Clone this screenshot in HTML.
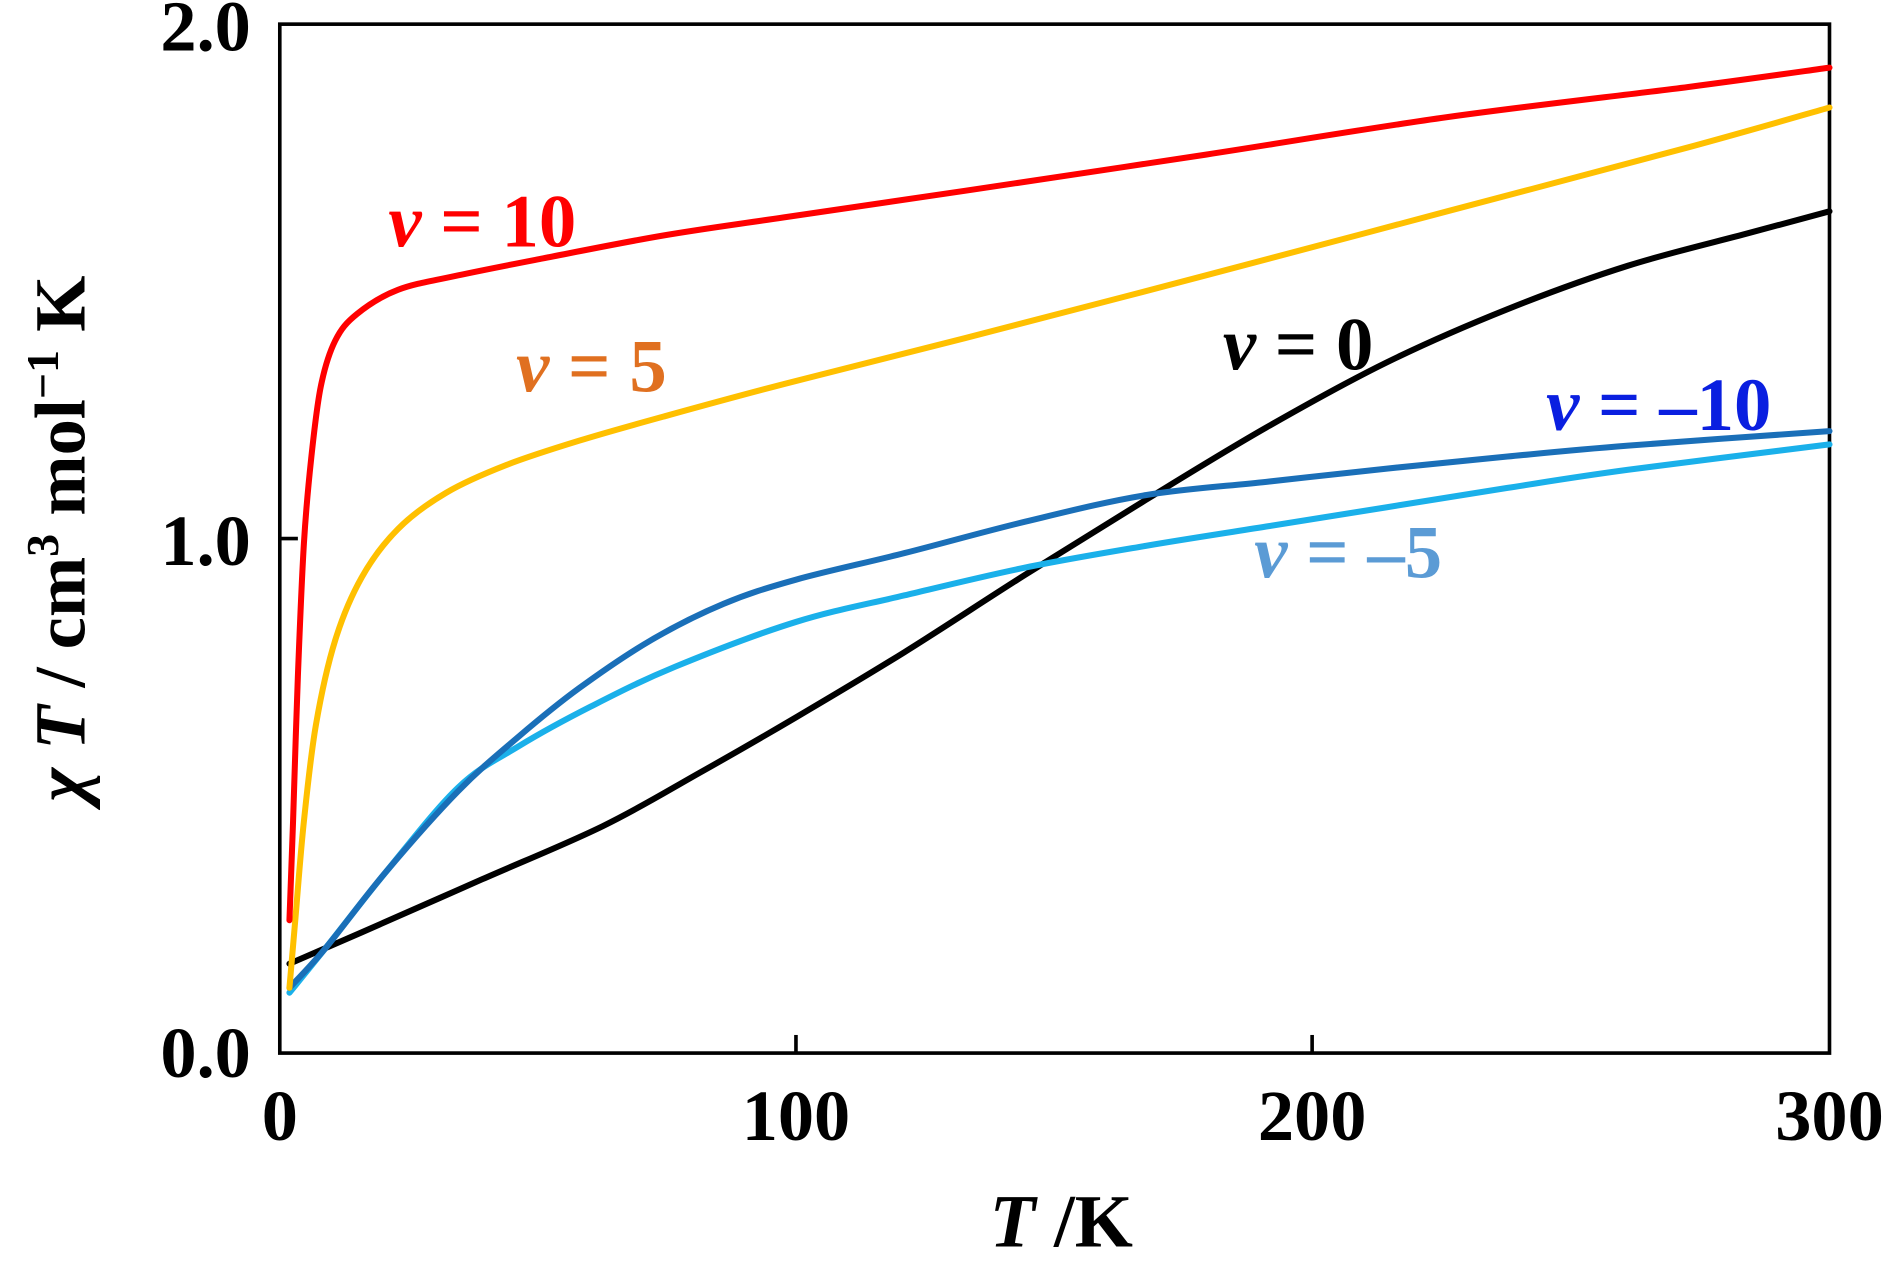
<!DOCTYPE html>
<html><head><style>html,body{margin:0;padding:0;background:#fff}svg{display:block}text{font-family:"Liberation Serif",serif;font-weight:bold}</style></head>
<body>
<svg id="s" width="1891" height="1262" viewBox="0 0 1568 1045" preserveAspectRatio="none" xmlns="http://www.w3.org/2000/svg">
<rect x="232" y="20" width="1285" height="852" fill="none" stroke="#000" stroke-width="3"/>
<g stroke="#000" stroke-width="3">
<line x1="660" y1="872" x2="660" y2="857"/><line x1="1088" y1="872" x2="1088" y2="857"/>
<line x1="232" y1="446" x2="247" y2="446"/>
</g>
<g font-size="60" text-anchor="end">
<text x="208" y="42">2.0</text><text x="208" y="468">1.0</text><text x="208" y="892">0.0</text>
</g>
<g font-size="60" text-anchor="middle">
<text x="232" y="944">0</text><text x="660" y="944">100</text><text x="1088" y="944">200</text><text x="1517" y="944">300</text>
</g>
<text x="880" y="1032" font-size="62" text-anchor="middle"><tspan font-style="italic">T</tspan> /K</text>
<text transform="translate(70,446) rotate(-90)" font-size="60" text-anchor="middle"><tspan font-style="italic">χ T</tspan> / cm<tspan font-size="38" dy="-22">3</tspan><tspan dy="22"> mol</tspan><tspan font-size="38" dy="-22">−1</tspan><tspan dy="22"> K</tspan></text>
<g id="curves" fill="none" stroke-width="5" stroke-linejoin="round" stroke-linecap="round">
<polyline stroke="#000" points="240,798 300,772 400,728 500,684 580,640 660,594 750,540 850,476 950,414 1050,354 1150,300 1250,256 1350,220 1450,193 1517,175"/>
<polyline stroke="#1ab0ea" points="240,822 270,785 320,722 380,652 430,618 490,585 560,552 660,515 750,493 850,470 950,452 1050,436 1150,420 1250,404 1350,389 1517,368"/>
<polyline stroke="#1a6fb8" points="240,818 270,785 320,722 380,655 430,610 480,570 540,530 600,500 660,480 750,458 850,432 950,410 1050,399 1150,388 1250,378 1350,369 1517,357"/>
<polyline stroke="#ffc000" points="240,818 245,760 252,680 262,600 278,530 300,478 330,438 370,408 420,385 480,365 550,345 650,318 800,280 1000,228 1200,175 1400,122 1517,89"/>
<polyline stroke="#ff0000" points="240,762 243,680 247,560 252,450 258,380 266,320 278,282 296,260 330,240 380,228 450,214 550,195 650,180 800,158 1000,128 1200,97 1400,72 1517,56"/>
</g>
<g font-size="62">
<text x="322" y="204" fill="#ff0000"><tspan font-style="italic">v</tspan> = 10</text>
<text x="428" y="324" fill="#e07020"><tspan font-style="italic">v</tspan> = 5</text>
<text x="1014" y="306" fill="#000"><tspan font-style="italic">v</tspan> = 0</text>
<text x="1282" y="356" fill="#0a1fe0"><tspan font-style="italic">v</tspan> = –10</text>
<text x="1040" y="478" fill="#5b9bd5"><tspan font-style="italic">v</tspan> = –5</text>
</g>
</svg>
<script>
document.querySelectorAll('#curves polyline').forEach(function(pl){
 var p=pl.getAttribute('points').trim().split(/\s+/).map(function(s){return s.split(',').map(Number)});
 var d='M'+p[0][0]+','+p[0][1];
 for(var i=0;i<p.length-1;i++){
  var p0=p[i>0?i-1:i],p1=p[i],p2=p[i+1],p3=p[i+2<p.length?i+2:i+1];
  var c1=[p1[0]+(p2[0]-p0[0])/6,p1[1]+(p2[1]-p0[1])/6],c2=[p2[0]-(p3[0]-p1[0])/6,p2[1]-(p3[1]-p1[1])/6];
  d+=' C'+c1[0]+','+c1[1]+' '+c2[0]+','+c2[1]+' '+p2[0]+','+p2[1];
 }
 var path=document.createElementNS('http://www.w3.org/2000/svg','path');
 path.setAttribute('d',d);path.setAttribute('stroke',pl.getAttribute('stroke'));
 pl.parentNode.replaceChild(path,pl);
});
</script>
</body></html>
